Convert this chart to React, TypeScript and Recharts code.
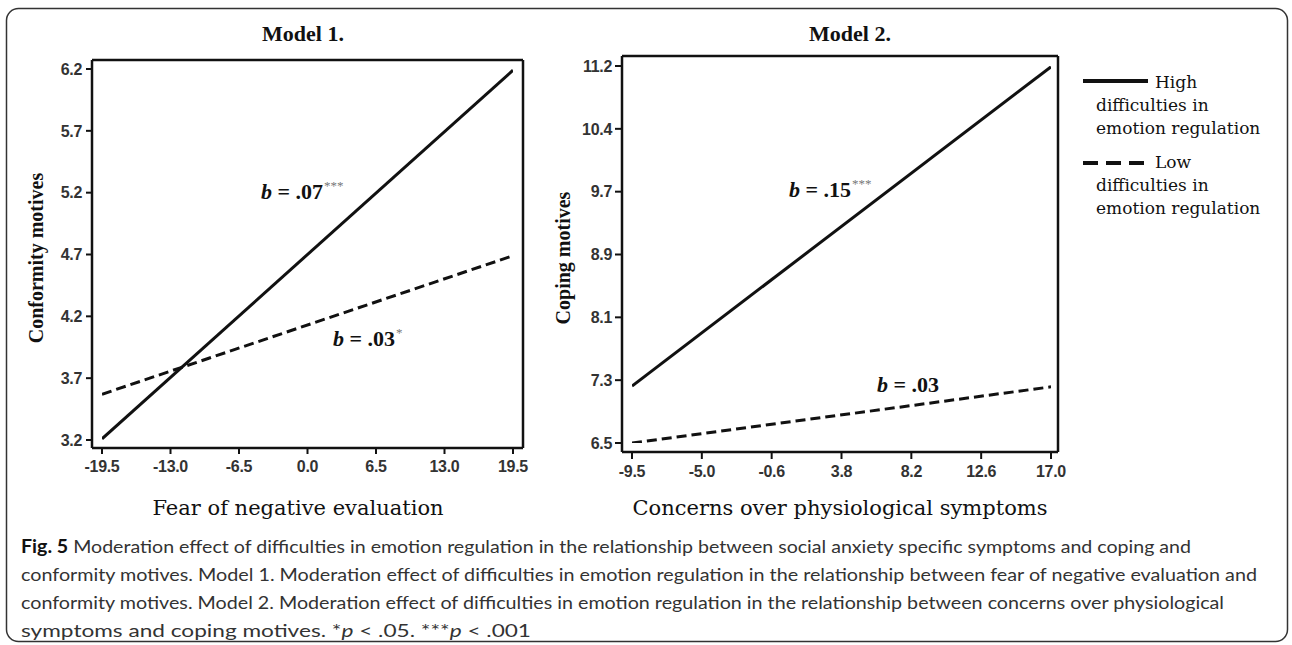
import React from "react";
import { LineChart, Line, XAxis, YAxis } from "recharts";

// Model 1: fear of negative evaluation -> conformity motives
const m1X = [-19.5, 19.5];
const m1High = [3.21, 6.19];
const m1Low = [3.57, 4.69];
const m1XTicks = ["-19.5", "-13.0", "-6.5", "0.0", "6.5", "13.0", "19.5"];
const m1YTicks = ["3.2", "3.7", "4.2", "4.7", "5.2", "5.7", "6.2"];

// Model 2: concerns over physiological symptoms -> coping motives
const m2X = [-9.5, 17.0];
const m2High = [7.21, 11.19];
const m2Low = [6.5, 7.2];
const m2XTicks = ["-9.5", "-5.0", "-0.6", "3.8", "8.2", "12.6", "17.0"];
const m2YTicks = ["6.5", "7.3", "8.1", "8.9", "9.7", "10.4", "11.2"];

const legendLabels = [
  ["High", "difficulties in", "emotion regulation"],
  ["Low", "difficulties in", "emotion regulation"],
];

const captionLines = [
  "Moderation effect of difficulties in emotion regulation in the relationship between social anxiety specific symptoms and coping and",
  "conformity motives. Model 1. Moderation effect of difficulties in emotion regulation in the relationship between fear of negative evaluation and",
  "conformity motives. Model 2. Moderation effect of difficulties in emotion regulation in the relationship between concerns over physiological",
];

const SERIF = "'Liberation Serif', 'Times New Roman', serif";
const WIDE_SERIF = "'DejaVu Serif', serif";
const SANS = "'Liberation Sans', Arial, sans-serif";
const INK = "#111";

// tick labels sit at even steps between the first and last label
const spread = (labels: string[]) => {
  const a = parseFloat(labels[0]);
  const b = parseFloat(labels[labels.length - 1]);
  return labels.map((_, i) => a + (i * (b - a)) / (labels.length - 1));
};

const labelFor = (labels: string[], pos: number[]) => (v: number) => {
  const i = pos.findIndex((p) => Math.abs(p - v) < 1e-6);
  return i >= 0 ? labels[i] : String(v);
};

const tickStyle = {
  fill: "#333",
  fontSize: 16,
  fontWeight: 700,
  fontFamily: SANS,
  letterSpacing: -0.3,
};

interface PanelProps {
  left: number;
  xs: number[];
  high: number[];
  low: number[];
  xLabels: string[];
  yLabels: string[];
  margin: { top: number; right: number; bottom: number; left: number };
  yAxisWidth: number;
  xAxisHeight: number;
  padX: { left: number; right: number };
  padY: { top: number; bottom: number };
  tickSize: number;
  yTickMargin: number;
}

function Panel(p: PanelProps) {
  const data = p.xs.map((x, i) => ({ x, high: p.high[i], low: p.low[i] }));
  const xPos = spread(p.xLabels);
  const yPos = spread(p.yLabels);
  const xDomain = [xPos[0], xPos[xPos.length - 1]];
  const yDomain = [yPos[0], yPos[yPos.length - 1]];
  const axisLine = { stroke: INK, strokeWidth: 2.5 };
  const tickLine = { stroke: INK, strokeWidth: 2 };

  return (
    <div style={{ position: "absolute", left: p.left, top: 0 }}>
      <LineChart width={540} height={500} data={data} margin={p.margin}>
        <XAxis
          dataKey="x"
          type="number"
          domain={xDomain}
          ticks={xPos}
          interval={0}
          allowDataOverflow
          padding={p.padX}
          height={p.xAxisHeight}
          axisLine={axisLine}
          tickLine={tickLine}
          tickSize={p.tickSize}
          tickMargin={7}
          tick={tickStyle}
          tickFormatter={labelFor(p.xLabels, xPos)}
        />
        <XAxis
          xAxisId="top"
          orientation="top"
          dataKey="x"
          type="number"
          domain={xDomain}
          height={1}
          tick={false}
          tickLine={false}
          axisLine={axisLine}
        />
        <YAxis
          type="number"
          domain={yDomain}
          ticks={yPos}
          interval={0}
          allowDataOverflow
          padding={p.padY}
          width={p.yAxisWidth}
          axisLine={axisLine}
          tickLine={tickLine}
          tickSize={p.tickSize}
          tickMargin={p.yTickMargin}
          tick={tickStyle}
          tickFormatter={labelFor(p.yLabels, yPos)}
        />
        <YAxis
          yAxisId="right"
          orientation="right"
          type="number"
          domain={yDomain}
          width={1}
          tick={false}
          tickLine={false}
          axisLine={axisLine}
        />
        <Line
          dataKey="high"
          stroke={INK}
          strokeWidth={3}
          dot={false}
          isAnimationActive={false}
        />
        <Line
          dataKey="low"
          stroke={INK}
          strokeWidth={3}
          strokeDasharray="10 5"
          dot={false}
          isAnimationActive={false}
        />
      </LineChart>
    </div>
  );
}

function Coef({ x, y, value, stars }: { x: number; y: number; value: string; stars: string }) {
  return (
    <text x={x} y={y} fontFamily={SERIF} fontWeight={700} fontSize={22} fill={INK}>
      <tspan fontStyle="italic">b</tspan>
      <tspan>{` = ${value}`}</tspan>
      {stars && (
        <tspan fontSize={13} fontWeight={400} fill="#777" dy={-9} dx={1}>
          {stars}
        </tspan>
      )}
    </text>
  );
}

export default function App() {
  return (
    <div
      style={{
        position: "absolute",
        left: 0,
        top: 0,
        width: 1292,
        height: 645,
        background: "#fff",
      }}
    >
      <Panel
        left={0}
        xs={m1X}
        high={m1High}
        low={m1Low}
        xLabels={m1XTicks}
        yLabels={m1YTicks}
        margin={{ top: 59, right: 16, bottom: 0, left: 0 }}
        yAxisWidth={92}
        xAxisHeight={52}
        padX={{ left: 10, right: 10 }}
        padY={{ top: 9, bottom: 8 }}
        tickSize={6}
        yTickMargin={4}
      />
      <Panel
        left={540}
        xs={m2X}
        high={m2High}
        low={m2Low}
        xLabels={m2XTicks}
        yLabels={m2YTicks}
        margin={{ top: 55, right: 21, bottom: 0, left: 0 }}
        yAxisWidth={82}
        xAxisHeight={48}
        padX={{ left: 10, right: 7 }}
        padY={{ top: 10, bottom: 9 }}
        tickSize={7}
        yTickMargin={3}
      />

      <svg
        width={1292}
        height={645}
        style={{ position: "absolute", left: 0, top: 0, pointerEvents: "none" }}
      >
        <rect x={6.5} y={8.5} width={1281} height={633} rx={12} fill="none" stroke="#333" strokeWidth={1.5} />

        {/* panel titles */}
        <text x={303} y={41} textAnchor="middle" fontFamily={SERIF} fontWeight={700} fontSize={22} fill={INK}>
          Model 1.
        </text>
        <text x={850} y={41} textAnchor="middle" fontFamily={SERIF} fontWeight={700} fontSize={22} fill={INK}>
          Model 2.
        </text>

        {/* axis titles */}
        <text
          transform="translate(43,258) rotate(-90)"
          textAnchor="middle"
          fontFamily={SERIF}
          fontWeight={700}
          fontSize={20}
          fill={INK}
        >
          Conformity motives
        </text>
        <text
          transform="translate(570,258) rotate(-90)"
          textAnchor="middle"
          fontFamily={SERIF}
          fontWeight={700}
          fontSize={20}
          fill={INK}
        >
          Coping motives
        </text>
        <text x={298} y={515} textAnchor="middle" fontFamily={WIDE_SERIF} fontSize={21} fill={INK}>
          Fear of negative evaluation
        </text>
        <text x={840} y={515} textAnchor="middle" fontFamily={WIDE_SERIF} fontSize={21} fill={INK}>
          Concerns over physiological symptoms
        </text>

        {/* slopes */}
        <Coef x={261} y={199} value=".07" stars="***" />
        <Coef x={333} y={346} value=".03" stars="*" />
        <Coef x={789} y={197} value=".15" stars="***" />
        <Coef x={877} y={392} value=".03" stars="" />

        {/* legend */}
        <line x1={1083} x2={1148} y1={81} y2={81} stroke={INK} strokeWidth={4} />
        <line x1={1083} x2={1148} y1={163} y2={163} stroke={INK} strokeWidth={4} strokeDasharray="15 8" />
        {legendLabels.map((lines, k) => {
          const base = k === 0 ? 88 : 168;
          return (
            <g key={k} fontFamily={WIDE_SERIF} fontSize={17} fill={INK}>
              <text x={1155} y={base}>{lines[0]}</text>
              <text x={1096} y={base + 23}>{lines[1]}</text>
              <text x={1096} y={base + 46}>{lines[2]}</text>
            </g>
          );
        })}

        {/* caption */}
        <g fontFamily="Lato, 'Open Sans', sans-serif" fontSize={18} fill="#333">
          <text x={21} y={553} textLength={1170} lengthAdjust="spacingAndGlyphs">
            <tspan fontWeight={700} fill="#111">Fig. 5</tspan>
            <tspan>{" " + captionLines[0]}</tspan>
          </text>
          <text x={21} y={581} textLength={1236} lengthAdjust="spacingAndGlyphs">
            {captionLines[1]}
          </text>
          <text x={21} y={609} textLength={1203} lengthAdjust="spacingAndGlyphs">
            {captionLines[2]}
          </text>
          <text x={21} y={637} textLength={510} lengthAdjust="spacingAndGlyphs">
            <tspan>symptoms and coping motives. *</tspan>
            <tspan fontStyle="italic">p</tspan>
            <tspan>{" < .05. ***"}</tspan>
            <tspan fontStyle="italic">p</tspan>
            <tspan>{" < .001"}</tspan>
          </text>
        </g>
      </svg>
    </div>
  );
}
